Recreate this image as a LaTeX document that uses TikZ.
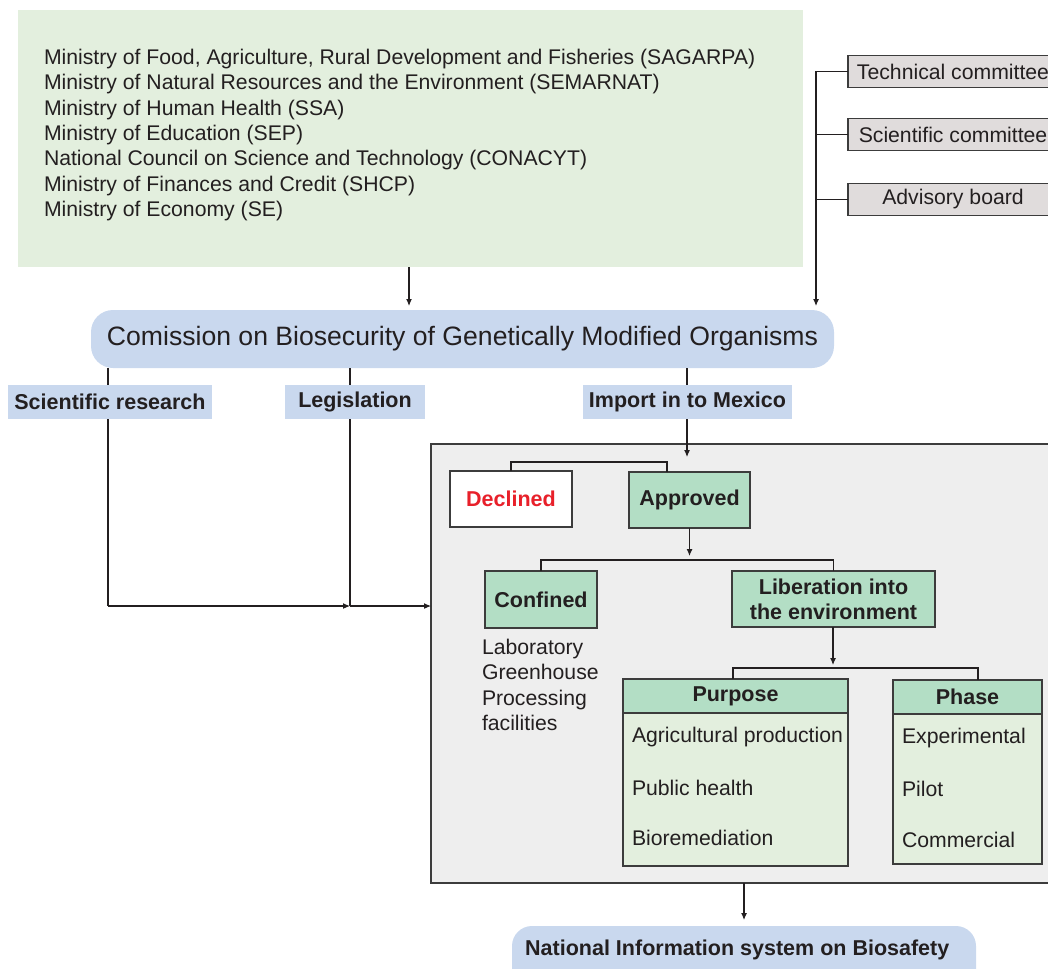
\documentclass[tikz,border=0pt]{standalone}
\usepackage{fontspec}
\setmainfont{Liberation Sans}
\usetikzlibrary{arrows.meta,positioning}
\definecolor{lgreen}{RGB}{227,239,222}
\definecolor{mgreen}{RGB}{179,222,197}
\definecolor{lblue}{RGB}{201,216,238}
\definecolor{lgray}{RGB}{238,238,238}
\definecolor{cgray}{RGB}{224,220,220}
\definecolor{ink}{RGB}{35,31,32}
\definecolor{edge}{RGB}{60,60,60}
\definecolor{dred}{RGB}{232,32,42}
\tikzset{
  box/.style={draw=edge,line width=1.2pt,inner sep=0pt,outer sep=0pt},
  plain/.style={inner sep=0pt,outer sep=0pt},
  lab/.style={fill=lblue,inner sep=0pt,outer sep=0pt,font=\fontsize{21.5}{25}\selectfont\bfseries,text=ink},
  conn/.style={draw=ink,line width=1.1pt},
  arr/.style={conn,-{Latex[length=7pt,width=6pt]}},
  txt/.style={inner sep=0pt,outer sep=0pt,font=\fontsize{21.2}{25.3}\selectfont,text=ink,align=left},
  rtxt/.style={font=\fontsize{21.2}{25}\selectfont,text=ink},
  bfx/.style={font=\fontsize{21.5}{25.3}\selectfont\bfseries,text=ink,align=center}
}
\begin{document}
\begin{tikzpicture}[x=1pt,y=-1pt]
\useasboundingbox (0,0) rectangle (1048,968);
\clip (0,0) rectangle (1048,968);
% top green box
\node[plain,fill=lgreen,minimum width=785pt,minimum height=257pt] (min) at (410.5,138.5) {};
\node[txt,anchor=west] (mintxt) at (44,135) {Ministry of Food, Agriculture, Rural Development and Fisheries (SAGARPA)\\
Ministry of Natural Resources and the Environment (SEMARNAT)\\
Ministry of Human Health (SSA)\\
Ministry of Education (SEP)\\
National Council on Science and Technology (CONACYT)\\
Ministry of Finances and Credit (SHCP)\\
Ministry of Economy (SE)};
% committees
\node[box,fill=cgray,minimum width=210pt,minimum height=32pt,rtxt] (tech) at (953,71.5) {Technical committee};
\node[box,fill=cgray,minimum width=210pt,minimum height=32pt,rtxt] (sci) at (953,134.5) {Scientific committee};
\node[box,fill=cgray,minimum width=210pt,minimum height=32pt,rtxt] (adv) at (953,199.5) {Advisory board};
% commission
\node[plain,fill=lblue,rounded corners=22pt,minimum width=743pt,minimum height=58pt,font=\fontsize{26.6}{30}\selectfont,text=ink] (comm) at (462.5,339) {Comission on Biosecurity of Genetically Modified Organisms};
\coordinate (cj) at (816,71.5);
\coordinate (cend) at (816,306);
\draw[conn] (tech.west) -- (cj);
\draw[conn] (sci.west) -- (sci.west -| cj);
\draw[conn] (adv.west) -- (adv.west -| cj);
\draw[arr] (cj) -- (cend);
\coordinate (mend) at (409,306);
\draw[arr] (min.south -| mend) -- (mend);
% gray box
\node[box,fill=lgray,minimum width=629pt,minimum height=439pt] (gray) at (745.5,663.5) {};
% connectors from commission
\coordinate (j1) at (108,606);
\coordinate (j2) at (350,606);
\draw[conn] (comm.south -| j1) -- (j1);
\draw[arr] (j1) -- (j2);
\draw[conn] (comm.south -| j2) -- (j2);
\draw[arr] (j2) -- (gray.west |- j2);
\coordinate (imj) at (687,457);
\draw[conn] (comm.south -| imj) -- (imj |- 390,390);
% labels
\node[lab,minimum width=204pt,minimum height=34pt] (sr) at (110,402) {Scientific research};
\node[lab,minimum width=140pt,minimum height=34pt] (leg) at (355,402) {Legislation};
\node[lab,minimum width=209pt,minimum height=34pt] (imp) at (687.5,402) {Import in to Mexico};
\draw[arr] (imp.south -| imj) -- (imj);
% declined / approved
\node[box,fill=white,minimum width=122pt,minimum height=56pt,bfx,text=dred] (dec) at (511,499) {Declined};
\node[box,fill=mgreen,minimum width=121pt,minimum height=56pt,bfx] (app) at (689.5,500) {Approved};
\draw[conn] (dec.north) -- ++(0,-9) -| ([xshift=-22.5pt]app.north);
\coordinate (b1) at (690,556);
\draw[arr] (app.south) -- (app.south |- b1);
% confined / liberation
\node[box,fill=mgreen,minimum width=112pt,minimum height=57pt,bfx] (conf) at (541,599.5) {Confined};
\node[box,fill=mgreen,minimum width=203pt,minimum height=56pt,bfx] (lib) at (833.5,599) {Liberation into\\the environment};
\draw[conn] (conf.north) -- ++(0,-11) -| (lib.north);
\node[txt,anchor=west] (conftxt) at (482,685) {Laboratory\\Greenhouse\\Processing\\facilities};
% purpose / phase
\node[box,fill=lgreen,minimum width=225pt,minimum height=187pt] (pur) at (735.5,772.5) {};
\node[box,fill=mgreen,minimum width=225pt,minimum height=34pt,bfx] (purh) at (735.5,696) {Purpose};
\node[txt,anchor=west] (p1) at (632,737) {Agricultural production};
\node[txt,anchor=west] (p2) at (632,788) {Public health};
\node[txt,anchor=west] (p3) at (632,838) {Bioremediation};
\node[box,fill=lgreen,minimum width=149pt,minimum height=184pt] (pha) at (967.5,772) {};
\node[box,fill=mgreen,minimum width=149pt,minimum height=34pt,bfx] (phah) at (967.5,697) {Phase};
\node[txt,anchor=west] (h1) at (902,738) {Experimental};
\node[txt,anchor=west] (h2) at (902,789) {Pilot};
\node[txt,anchor=west] (h3) at (902,840) {Commercial};
\coordinate (b2) at (833,665);
\draw[arr] (lib.south -| b2) -- (b2);
\draw[conn] ([xshift=-2.5pt]purh.north) -- ++(0,-11) -| ([xshift=10.5pt]phah.north);
% national
\node[plain,fill=lblue,rounded corners=20pt,minimum width=464pt,minimum height=64pt] (nat) at (744,958) {};
\node[inner sep=0pt,anchor=west,bfx] (nattxt) at (525,950) {National Information system on Biosafety};
\coordinate (b3) at (744,920);
\draw[arr] (gray.south -| b3) -- (b3);
\end{tikzpicture}
\end{document}
